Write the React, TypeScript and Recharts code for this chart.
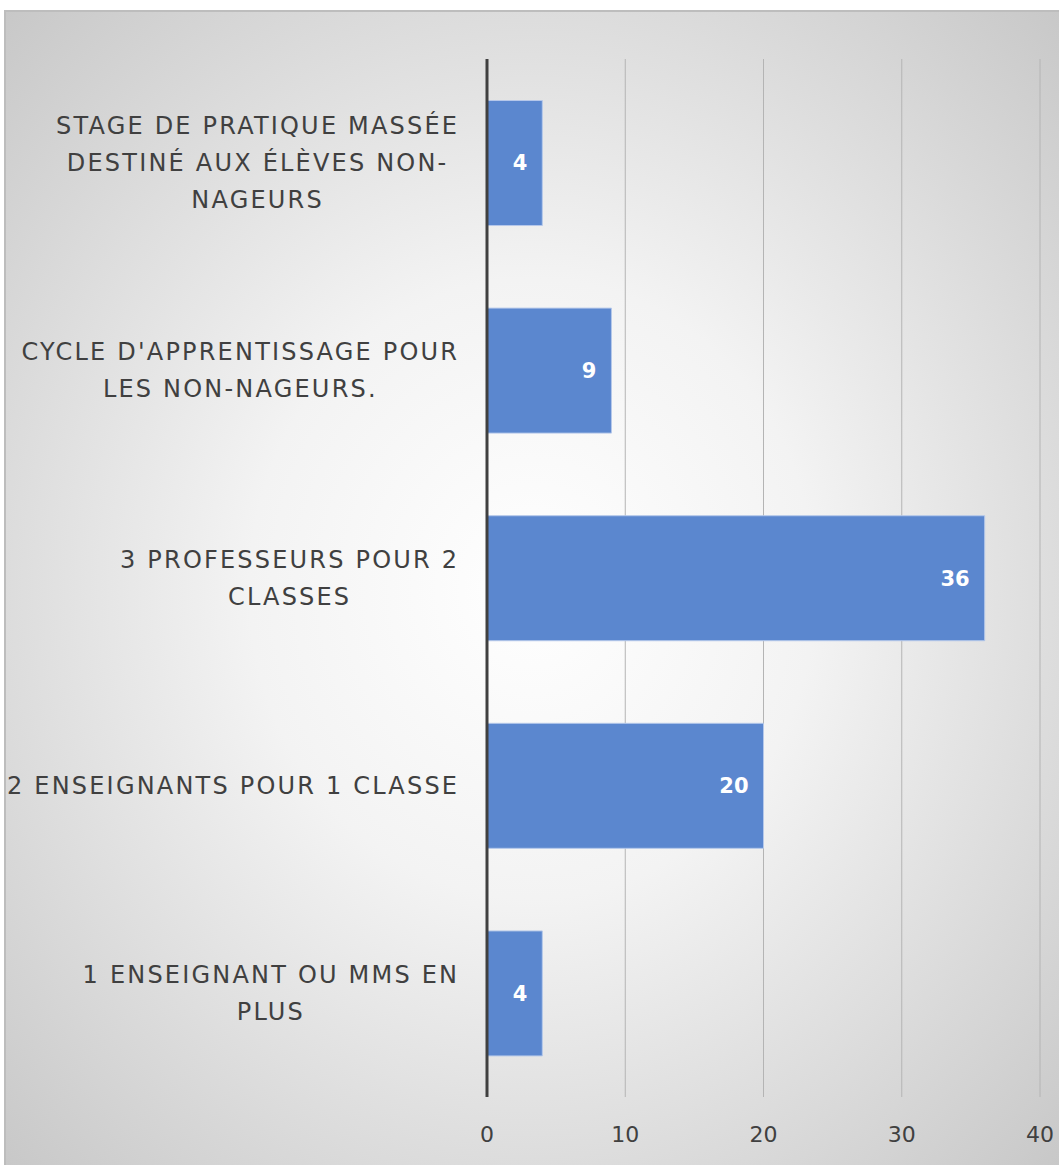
import { BarChart, Bar, XAxis, YAxis, CartesianGrid, LabelList } from "recharts";

// categories, top to bottom, with the line breaks used in the picture
const categoryLines: string[][] = [
  ["STAGE DE PRATIQUE MASSÉE", "DESTINÉ AUX ÉLÈVES NON-", "NAGEURS"],
  ["CYCLE D'APPRENTISSAGE POUR", "LES NON-NAGEURS."],
  ["3 PROFESSEURS POUR 2", "CLASSES"],
  ["2 ENSEIGNANTS POUR 1 CLASSE"],
  ["1 ENSEIGNANT OU MMS EN", "PLUS"],
];
const values = [4, 9, 36, 20, 4];
const xTicks = [0, 10, 20, 30, 40];

const categories = categoryLines.map((l) => l.join(" "));
const chartData = categories.map((name, i) => ({ name, value: values[i] }));

const TEXT_COLOR = "#404040";
const BAR_COLOR = "#5b87cf";
const GRID_COLOR = "#b4b4b4";
const LABEL_FONT = "'DejaVu Sans', sans-serif";
const LABEL_SIZE = 24;
const LETTER_SPACING = 2.2;
const LINE_HEIGHT = 37;

let ctx: CanvasRenderingContext2D | null = null;
const measure = (s: string) => {
  if (!ctx) ctx = document.createElement("canvas").getContext("2d");
  const base = ctx
    ? (() => {
        ctx!.font = `${LABEL_SIZE}px 'DejaVu Sans'`;
        return ctx!.measureText(s).width;
      })()
    : s.length * LABEL_SIZE * 0.62;
  return base + LETTER_SPACING * s.length;
};

const CategoryTick = (props: any) => {
  const { x, y, payload } = props;
  const idx = categories.indexOf(payload.value);
  const lines = idx >= 0 ? categoryLines[idx] : [String(payload.value)];
  // letter spacing adds a trailing gap after the last glyph
  const right = x - 22 + LETTER_SPACING;
  const blockW = Math.max(...lines.map(measure));
  const cx = right - blockW / 2;
  const startY = y - ((lines.length - 1) * LINE_HEIGHT) / 2;
  return (
    <g>
      {lines.map((line, i) => (
        <text
          key={i}
          x={cx}
          y={startY + i * LINE_HEIGHT}
          textAnchor="middle"
          dominantBaseline="central"
          fill={TEXT_COLOR}
          fontSize={LABEL_SIZE}
          fontFamily={LABEL_FONT}
          style={{ letterSpacing: LETTER_SPACING }}
        >
          {line}
        </text>
      ))}
    </g>
  );
};

export default function App() {
  return (
    <div
      style={{
        position: "absolute",
        left: 4,
        top: 10,
        width: 1055,
        height: 1155,
        boxSizing: "border-box",
        borderTop: "2px solid #bdbdbd",
        borderLeft: "2px solid #bdbdbd",
        background:
          "radial-gradient(ellipse farthest-corner at 50% 50%, #ffffff 0%, #f3f3f3 38%, #c8c8c8 100%)",
      }}
    >
      <BarChart
        width={1053}
        height={1153}
        data={chartData}
        layout="vertical"
        margin={{ top: 47, right: 19, bottom: 18, left: 0 }}
        barCategoryGap="20%"
      >
        <CartesianGrid horizontal={false} stroke={GRID_COLOR} strokeWidth={1} />
        <XAxis
          type="number"
          domain={[0, 40]}
          ticks={xTicks}
          axisLine={false}
          tickLine={false}
          height={50}
          tickMargin={23}
          tick={{ fill: TEXT_COLOR, fontSize: 22, fontFamily: LABEL_FONT }}
        />
        <YAxis
          type="category"
          dataKey="name"
          width={481}
          axisLine={{ stroke: TEXT_COLOR, strokeWidth: 3 }}
          tickLine={false}
          tick={<CategoryTick />}
          interval={0}
        />
        <Bar
          dataKey="value"
          fill={BAR_COLOR}
          stroke="#b5c8ea"
          strokeWidth={1}
          isAnimationActive={false}
        >
          <LabelList
            dataKey="value"
            position="insideRight"
            offset={15}
            fill="#ffffff"
            fontSize={21}
            fontWeight="bold"
            fontFamily={LABEL_FONT}
          />
        </Bar>
      </BarChart>
    </div>
  );
}
